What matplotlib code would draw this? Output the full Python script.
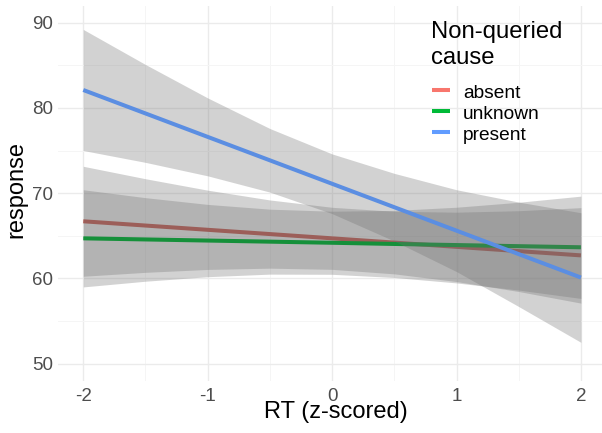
import matplotlib
matplotlib.use("Agg")
import matplotlib.pyplot as plt
from matplotlib.lines import Line2D
import numpy as np

# ---- data ----
x_vals = [-2.0, -1.5, -1.0, -0.5, 0.0, 0.5, 1.0, 1.5, 2.0]

absent_fit   = [66.7, 66.2, 65.7, 65.2, 64.7, 64.2, 63.7, 63.2, 62.7]
absent_upper = [73.15, 71.69, 70.35, 69.2, 68.34, 67.87, 67.77, 67.94, 68.3]
absent_lower = [60.25, 60.71, 61.05, 61.2, 61.06, 60.53, 59.63, 58.46, 57.1]

unknown_fit   = [64.7, 64.57, 64.44, 64.31, 64.18, 64.04, 63.91, 63.78, 63.65]
unknown_upper = [70.4, 69.47, 68.68, 68.12, 67.88, 67.97, 68.35, 68.93, 69.65]
unknown_lower = [59.0, 59.67, 60.2, 60.5, 60.48, 60.11, 59.47, 58.63, 57.65]

present_fit   = [82.1, 79.35, 76.6, 73.85, 71.1, 68.35, 65.6, 62.85, 60.1]
present_upper = [89.2, 85.09, 81.17, 77.58, 74.6, 72.32, 70.4, 68.95, 67.7]
present_lower = [75.0, 73.61, 72.03, 70.12, 67.6, 64.38, 60.8, 56.7, 52.5]

groups = ["absent", "unknown", "present"]
legend_title = ["Non-queried", "cause"]
legend_colors = ["#F8766D", "#00BA38", "#619CFF"]
line_colors = ["#B0574F", "#15903A", "#5B8EE2"]

x_ticks = [-2, -1, 0, 1, 2]
y_ticks = [50, 60, 70, 80, 90]

# ---- figure ----
plt.rcParams['font.family'] = ['Liberation Sans', 'DejaVu Sans']
W, H = 602, 433
fig = plt.figure(figsize=(W / 100, H / 100), dpi=100)

left_px, right_px, top_px, bottom_px = 58.4, 605.8, 5.6, 380.7
ax = fig.add_axes([left_px / W, (H - bottom_px) / H,
                   (right_px - left_px) / W, (bottom_px - top_px) / H])
ax.set_xlim(-2.2, 2.2)
ax.set_ylim(48, 92)

fits = [absent_fit, unknown_fit, present_fit]
uppers = [absent_upper, unknown_upper, present_upper]
lowers = [absent_lower, unknown_lower, present_lower]

z = 2
for fit, up, lo, lc in zip(fits, uppers, lowers, line_colors):
    ax.fill_between(x_vals, lo, up, color="#707070", alpha=0.31, lw=0, zorder=z)
    ax.plot(x_vals, fit, color=lc, lw=2.9, solid_capstyle="butt", zorder=z + 1)
    z += 2

ax.set_xticks(x_ticks)
ax.set_xticklabels([str(t) for t in x_ticks])
ax.set_yticks(y_ticks)
ax.set_xticks([-1.5, -0.5, 0.5, 1.5], minor=True)
ax.set_yticks([55, 65, 75, 85], minor=True)
ax.grid(which="major", color="#EBEBEB", lw=1.0, zorder=0)
ax.grid(which="minor", color="#F5F5F5", lw=0.7, zorder=0)
ax.set_axisbelow(True)
for s in ax.spines.values():
    s.set_visible(False)
ax.tick_params(which="both", length=0)
ax.tick_params(axis="y", labelsize=13.5, labelcolor="#4D4D4D", pad=4)
ax.tick_params(axis="x", labelsize=13.5, labelcolor="#4D4D4D", pad=5)

fig.text(336 / W, 1 - 412 / H, "RT (z-scored)", fontsize=17, ha="center", va="center")
fig.text(16 / W, 1 - 190 / H, "response", fontsize=17, ha="center", va="center",
         rotation=90)

# ---- legend (title lines + keys) ----
title_baselines = [37.7, 64.3]
for txt, yb in zip(legend_title, title_baselines):
    fig.text(431 / W, 1 - yb / H, txt, fontsize=17.2, ha="left", va="baseline",
             zorder=20)

label_baselines = [98.3, 119.3, 140.3]
for lab, col, yb in zip(groups, legend_colors, label_baselines):
    yk = 1 - (yb - 8.3) / H
    fig.add_artist(Line2D([432 / W, 449.5 / W], [yk, yk], color=col, lw=2.9,
                          solid_capstyle="butt", transform=fig.transFigure,
                          zorder=20))
    fig.text(463 / W, 1 - yb / H, lab, fontsize=13.8, ha="left", va="baseline",
             zorder=20)

fig.savefig("out.png", dpi=100)
